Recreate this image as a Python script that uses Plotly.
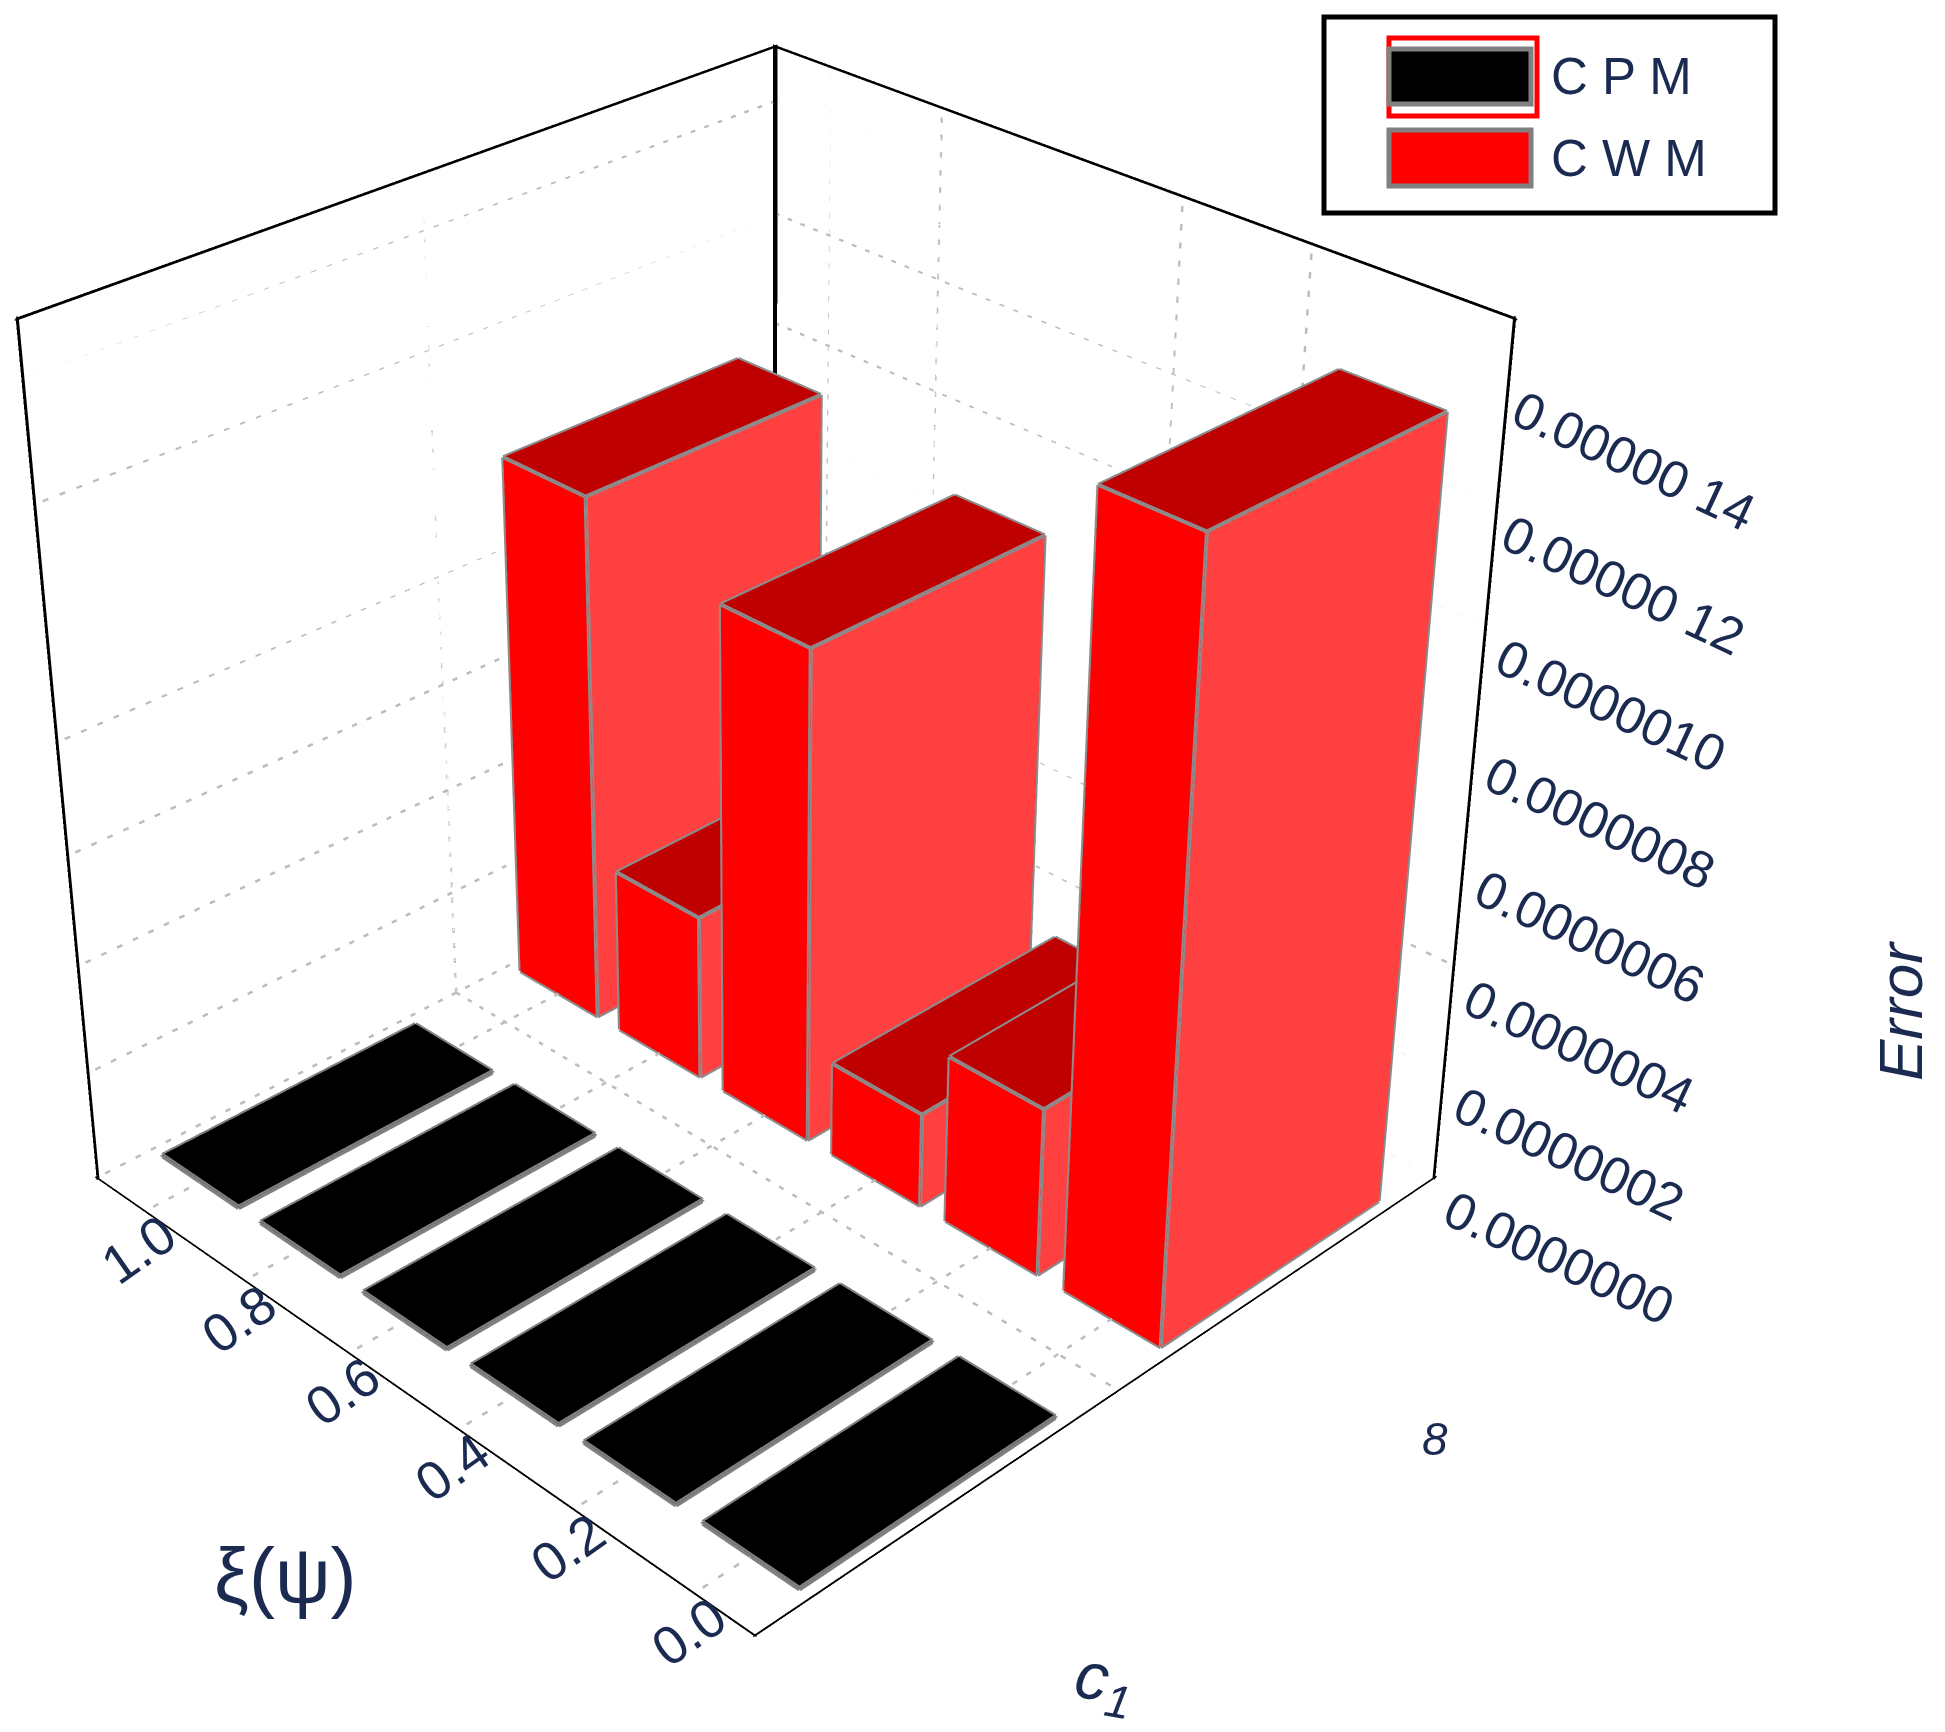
import plotly.graph_objects as go

XI_VALUES = [0.0, 0.2, 0.4, 0.6, 0.8, 1.0]
XI_LABELS = ["0.0", "0.2", "0.4", "0.6", "0.8", "1.0"]
CPM_ERROR = [3e-9, 3e-9, 3e-9, 3e-9, 3e-9, 3e-9]
CWM_ERROR = [1.38e-6, 0.31e-6, 0.175e-6, 0.905e-6, 0.31e-6, 0.98e-6]
ERROR_TICKS = [0.0, 0.2e-6, 0.4e-6, 0.6e-6, 0.8e-6, 1.0e-6, 1.2e-6, 1.4e-6]
ERROR_LABELS = ["0.0000000", "0.0000002", "0.0000004", "0.0000006",
                "0.0000008", "0.0000010", "0.00000 12", "0.00000 14"]

# plotly's 3d view has a fixed 45 degree fov, so the flat perspective of the
# original needs a taller scene; the page is pulled up by TOP_CUT to centre it
W, H = 1945, 3568
TOP_CUT = 1099
C_RANGE = [0.0, 1.0]
XI_RANGE = [-0.1, 1.1]
Z_TOP = 1.5e-6
ASPECT = (1.0074, 0.9926, 0.995)
BAR_HALF = 0.078
CPM_SPAN = (0.075, 0.425)
CWM_SPAN = (0.58, 0.925)
EDGE = "#8c8c8c"
TICK_COLOR = "#1a2a50"
FONT = "Liberation Sans"
FLAT = dict(ambient=1, diffuse=0, specular=0, fresnel=0, roughness=1)


def bar_traces(span, heights, side_a, side_b, top, edge):
    xs, ys, zs, i, j, k, colors = [], [], [], [], [], [], []
    ex, ey, ez = [], [], []
    x0, x1 = span
    for xi, h in zip(XI_VALUES, heights):
        y0, y1 = xi - BAR_HALF, xi + BAR_HALF
        n = len(xs)
        xs += [x0, x1, x1, x0, x0, x1, x1, x0]
        ys += [y0, y0, y1, y1, y0, y0, y1, y1]
        zs += [0, 0, 0, 0, h, h, h, h]
        quads = [
            ((0, 3, 7, 4), side_a),  # x0 face
            ((0, 1, 5, 4), side_b),  # y0 face
            ((4, 5, 6, 7), top),
            ((1, 2, 6, 5), side_a),
            ((3, 2, 6, 7), side_b),
        ]
        for (a, b, c, d), col in quads:
            i += [n + a, n + a]
            j += [n + b, n + c]
            k += [n + c, n + d]
            colors += [col, col]
        for p, q in [(0, 1), (0, 3), (0, 4), (1, 5), (3, 7), (4, 5), (5, 6), (6, 7), (7, 4), (2, 6)]:
            ex += [xs[n + p], xs[n + q], xs[n + p], None]
            ey += [ys[n + p], ys[n + q], ys[n + p], None]
            ez += [zs[n + p], zs[n + q], zs[n + p], None]
    mesh = go.Mesh3d(x=xs, y=ys, z=zs, i=i, j=j, k=k, facecolor=colors, flatshading=True,
                     lighting=FLAT, hoverinfo="skip", showscale=False)
    lines = go.Scatter3d(x=ex, y=ey, z=ez, mode="lines", line=dict(color=edge, width=8),
                         hoverinfo="skip", showlegend=False)
    return [mesh, lines]


def line3d(x, y, z, color="black", width=4, dash="solid"):
    return go.Scatter3d(x=x, y=y, z=z, mode="lines", line=dict(color=color, width=width, dash=dash),
                        hoverinfo="skip", showlegend=False)


def frame_mesh(edges):
    # scatter3d lines taper on long runs, so the frame is thin black prisms
    spans = (C_RANGE[1] - C_RANGE[0], XI_RANGE[1] - XI_RANGE[0], Z_TOP)
    pts, i, j, k = [], [], [], []
    for a, b, t in edges:
        axis = [n for n in range(3) if a[n] != b[n]][0]
        o1, o2 = [n for n in range(3) if n != axis]
        d1, d2 = t * spans[o1] / ASPECT[o1], t * spans[o2] / ASPECT[o2]
        n0 = len(pts)
        for end in (a, b):
            for s1, s2 in [(-1, -1), (1, -1), (1, 1), (-1, 1)]:
                p = list(end)
                p[o1] += s1 * d1
                p[o2] += s2 * d2
                pts.append(p)
        for m in range(4):
            m2 = (m + 1) % 4
            i += [n0 + m, n0 + m]
            j += [n0 + m2, n0 + m2 + 4]
            k += [n0 + m2 + 4, n0 + m + 4]
    return go.Mesh3d(x=[p[0] for p in pts], y=[p[1] for p in pts], z=[p[2] for p in pts], i=i, j=j, k=k,
                     color="black", flatshading=True, lighting=FLAT, hoverinfo="skip", showscale=False)


fig = go.Figure()

# dashed grid on the floor and both walls, each run its own trace
c_lo, c_hi = C_RANGE
y_lo, y_hi = XI_RANGE
grey = dict(color="#bcbcbc", width=5, dash="dash")
for t in ERROR_TICKS:
    fig.add_trace(line3d([c_hi, c_lo], [y_hi, y_hi], [t, t], **grey))
    fig.add_trace(line3d([c_hi, c_hi], [y_hi, y_lo], [t, t], **grey))
for xi in XI_VALUES:
    fig.add_trace(line3d([c_hi, c_lo], [xi, xi], [0, 0], **grey))
    fig.add_trace(line3d([c_hi, c_hi], [xi, xi], [0, Z_TOP], **grey))
fig.add_trace(line3d([0.5, 0.5], [y_hi, y_lo], [0, 0], **grey))
fig.add_trace(line3d([0.5, 0.5], [y_hi, y_hi], [0, Z_TOP], **grey))

# frame
left, right, back, front = (c_lo, y_hi), (c_hi, y_lo), (c_hi, y_hi), (c_lo, y_lo)
fig.add_trace(frame_mesh([
    ((*left, 0), (*front, 0), 0.0022),
    ((*front, 0), (*right, 0), 0.0022),
    ((*left, 0), (*left, Z_TOP), 0.0035),
    ((*right, 0), (*right, Z_TOP), 0.0035),
    ((*back, 0), (*back, Z_TOP), 0.0035),
    ((*left, Z_TOP), (*back, Z_TOP), 0.003),
    ((*back, Z_TOP), (*right, Z_TOP), 0.003),
]))

for tr in bar_traces(CPM_SPAN, CPM_ERROR, "#000000", "#000000", "#000000", "#808080"):
    fig.add_trace(tr)
for tr in bar_traces(CWM_SPAN, CWM_ERROR, "#FF0000", "#FF4040", "#BF0000", EDGE):
    fig.add_trace(tr)

scene_notes = []
for v, lab in zip(XI_VALUES, XI_LABELS):
    scene_notes.append(dict(x=c_lo, y=v, z=0, text=lab, showarrow=False, textangle=-35,
                            xanchor="center", yanchor="middle", xshift=-4, yshift=-37,
                            font=dict(family=FONT, size=54, color=TICK_COLOR)))
for v, lab in zip(ERROR_TICKS, ERROR_LABELS):
    scene_notes.append(dict(x=c_hi, y=y_lo, z=v, text=lab, showarrow=False, textangle=25,
                            xanchor="center", yanchor="middle", xshift=122, yshift=-80,
                            font=dict(family=FONT, size=52, color=TICK_COLOR)))


def px(x):
    return x / W


def py(y):
    return 1 - (y + TOP_CUT) / H


def rect(x0, y0, x1, y1, fill, line, width):
    return dict(type="rect", xref="paper", yref="paper", x0=px(x0), x1=px(x1), y0=py(y0), y1=py(y1),
                fillcolor=fill, line=dict(color=line, width=width))


def label(x, y, text, size, angle=0, italic=False, color=TICK_COLOR, anchor="center"):
    style = "italic" if italic else "normal"
    return dict(xref="paper", yref="paper", x=px(x), y=py(y), text=text, showarrow=False, textangle=angle,
                xanchor=anchor, yanchor="middle", font=dict(family=FONT, size=size, color=color, style=style))


fig.update_layout(
    width=W, height=H, margin=dict(l=0, r=0, t=0, b=0), paper_bgcolor="white", showlegend=False,
    scene=dict(
        domain=dict(x=[0, 0.7877], y=[0, 1]),
        xaxis=dict(visible=False, range=C_RANGE),
        yaxis=dict(visible=False, range=XI_RANGE),
        zaxis=dict(visible=False, range=[0, Z_TOP]),
        aspectmode="manual",
        aspectratio=dict(x=ASPECT[0], y=ASPECT[1], z=ASPECT[2]),
        camera=dict(eye=dict(x=-2.593, y=-2.629, z=2.19), center=dict(x=0, y=0, z=0.10), up=dict(x=0, y=0, z=1)),
        annotations=scene_notes,
    ),
    shapes=[
        rect(1324, 17, 1775, 213, "white", "black", 5),
        rect(1389, 38, 1537, 116, "white", "red", 5),
        rect(1389, 49, 1531, 104, "black", "#808080", 5),
        rect(1389, 130, 1531, 186, "red", "#808080", 5),
    ],
    annotations=[
        label(1549, 77, "C P M", 51, anchor="left"),
        label(1549, 158, "C W M", 51, anchor="left"),
        label(1900, 1011, "Error", 62, angle=-90, italic=True),
        label(285, 1576, "ξ(ψ)", 78),
        label(1104, 1683, "c<sub>1</sub>", 66, angle=10, italic=True),
        label(1435, 1439, "8", 46, italic=True),
    ],
)

shift = (
    "document.body.style.margin='0';"
    "document.getElementById('{plot_id}').style.marginTop='-%dpx';"
    "document.documentElement.style.overflow='hidden';" % TOP_CUT
)
fig.write_html("out.html", post_script=shift)
